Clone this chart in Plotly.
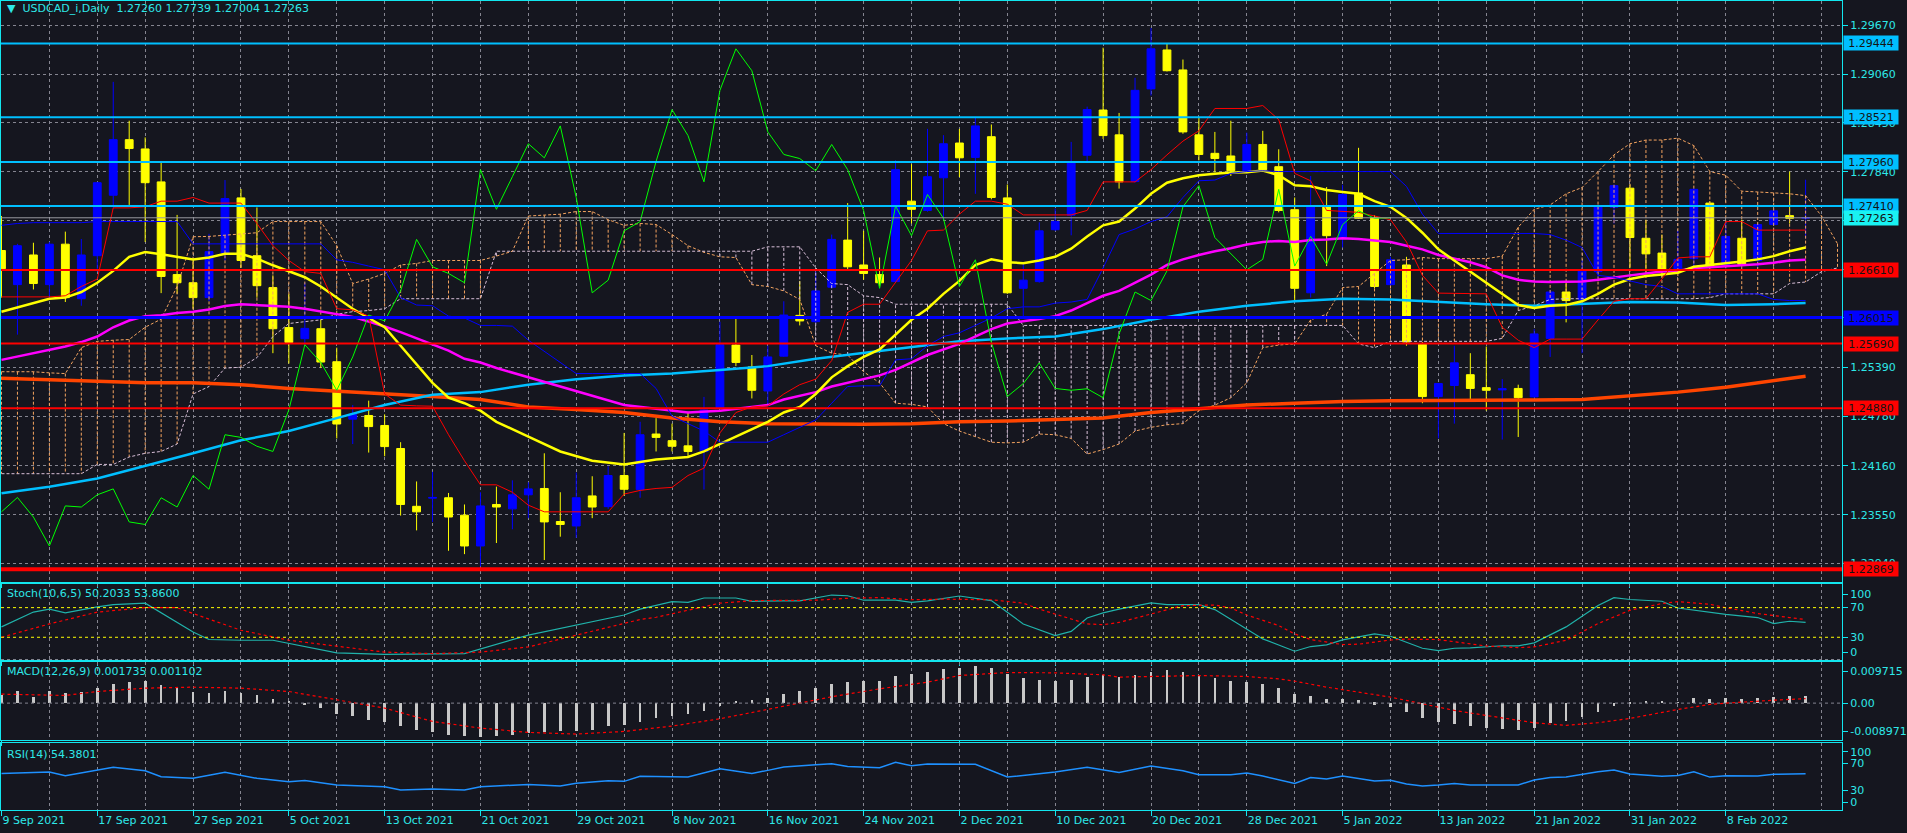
import numpy as np
import pandas as pd
import plotly.graph_objects as go
from plotly.subplots import make_subplots

# ---- daily bars (USDCAD_i, 9 Sep 2021 .. 15 Feb 2022) ----
dates = pd.bdate_range("2021-09-09", periods=114)
date_text = [f"{d.day} {d.strftime('%b %Y')}" for d in dates]
bar_idx = np.arange(len(dates))

opens = [1.26854, 1.26427, 1.26798, 1.26427, 1.26933, 1.26251, 1.26789, 1.27545, 1.28240, 1.28124,
         1.27712, 1.26553, 1.26451, 1.26265, 1.26822, 1.27512, 1.26789, 1.26390, 1.25890, 1.25751,
         1.25876, 1.25463, 1.24745, 1.24791, 1.24666, 1.24378, 1.23655, 1.23757, 1.23762, 1.23544,
         1.23159, 1.23678, 1.23623, 1.23799, 1.23878, 1.23465, 1.23409, 1.23785, 1.23651, 1.24040,
         1.23864, 1.24559, 1.24476, 1.24411, 1.24341, 1.24888, 1.25672, 1.25398, 1.25097, 1.25533,
         1.26043, 1.25964, 1.26395, 1.26984, 1.26673, 1.26553, 1.26465, 1.27471, 1.27355, 1.27763,
         1.28198, 1.28018, 1.28277, 1.27512, 1.26381, 1.26465, 1.27114, 1.27294, 1.28045, 1.28611,
         1.28300, 1.27716, 1.28875, 1.29362, 1.29112, 1.28300, 1.28069, 1.28036, 1.27832, 1.28180,
         1.27902, 1.27364, 1.26325, 1.27410, 1.27021, 1.27573, 1.27262, 1.26427, 1.26673, 1.25681,
         1.25027, 1.25166, 1.25301, 1.25139, 1.25111, 1.25129, 1.25023, 1.25755, 1.26335, 1.26242,
         1.26590, 1.27396, 1.27633, 1.27007, 1.26822, 1.26613, 1.26752, 1.27447, 1.26659, 1.27007,
         1.26729, 1.27178, 1.27290, 1.27260]
highs = [1.27285, 1.26937, 1.26951, 1.26961, 1.27090, 1.26998, 1.27712, 1.28963, 1.28477, 1.28268,
         1.27957, 1.27299, 1.26729, 1.27063, 1.27735, 1.27624, 1.27392, 1.26543, 1.26312, 1.26451,
         1.25987, 1.25639, 1.24921, 1.24976, 1.24805, 1.24457, 1.23966, 1.24086, 1.23822, 1.23678,
         1.23831, 1.23901, 1.23980, 1.23956, 1.24318, 1.23831, 1.24077, 1.24031, 1.24156, 1.24573,
         1.24712, 1.24758, 1.24689, 1.24837, 1.25023, 1.25964, 1.26033, 1.25547, 1.25663, 1.26219,
         1.26474, 1.26590, 1.27053, 1.27447, 1.27100, 1.26766, 1.27981, 1.27934, 1.28375, 1.28296,
         1.28375, 1.28514, 1.28430, 1.27679, 1.26706, 1.27206, 1.27378, 1.28212, 1.28653, 1.29390,
         1.28574, 1.29014, 1.29636, 1.29441, 1.29242, 1.28514, 1.28337, 1.28477, 1.28328, 1.28351,
         1.28120, 1.27517, 1.27786, 1.27647, 1.27675, 1.28138, 1.27294, 1.26775, 1.26775, 1.25709,
         1.25199, 1.25663, 1.25570, 1.25653, 1.25245, 1.25176, 1.25871, 1.26358, 1.26451, 1.26729,
         1.27424, 1.27679, 1.27679, 1.27239, 1.27053, 1.27100, 1.27633, 1.27471, 1.27216, 1.27239,
         1.27192, 1.27378, 1.27841, 1.27739]
lows = [1.26265, 1.25802, 1.26367, 1.26265, 1.26210, 1.26163, 1.26590, 1.27378, 1.27424, 1.26961,
        1.26321, 1.26312, 1.26126, 1.26219, 1.26729, 1.26636, 1.26265, 1.25570, 1.25440, 1.25663,
        1.25384, 1.24504, 1.24434, 1.24327, 1.24281, 1.23539, 1.23354, 1.23460, 1.23099, 1.23057,
        1.22904, 1.23196, 1.23368, 1.23507, 1.22983, 1.23275, 1.23261, 1.23507, 1.23623, 1.23785,
        1.23762, 1.24341, 1.24341, 1.24281, 1.23864, 1.24874, 1.25408, 1.25004, 1.24921, 1.25523,
        1.25917, 1.25941, 1.26381, 1.26599, 1.26488, 1.26404, 1.26455, 1.27192, 1.27340, 1.27239,
        1.27772, 1.27563, 1.27494, 1.26312, 1.26033, 1.26451, 1.27100, 1.27044, 1.27971, 1.28249,
        1.27628, 1.27702, 1.28792, 1.29093, 1.28314, 1.27981, 1.27832, 1.27786, 1.27818, 1.27851,
        1.27331, 1.26219, 1.26265, 1.26659, 1.26891, 1.27248, 1.26381, 1.26404, 1.25663, 1.24944,
        1.24504, 1.24689, 1.24990, 1.24851, 1.24490, 1.24522, 1.25013, 1.25523, 1.25955, 1.25570,
        1.26520, 1.27192, 1.26636, 1.26590, 1.26520, 1.26567, 1.26636, 1.26636, 1.26636, 1.26659,
        1.26636, 1.27169, 1.27192, 1.27004]
closes = [1.26627, 1.26914, 1.26441, 1.26933, 1.26265, 1.26798, 1.27702, 1.28240, 1.28129, 1.27702,
          1.26529, 1.26451, 1.26265, 1.26840, 1.27503, 1.26729, 1.26414, 1.25876, 1.25704, 1.25880,
          1.25459, 1.24684, 1.24805, 1.24652, 1.24402, 1.23678, 1.23586, 1.23766, 1.23521, 1.23159,
          1.23660, 1.23646, 1.23799, 1.23873, 1.23460, 1.23428, 1.23762, 1.23646, 1.24040, 1.23868,
          1.24550, 1.24517, 1.24406, 1.24341, 1.24860, 1.25676, 1.25454, 1.25106, 1.25523, 1.26047,
          1.25973, 1.26349, 1.26993, 1.26650, 1.26567, 1.26451, 1.27865, 1.27369, 1.27777, 1.28189,
          1.28013, 1.28412, 1.27517, 1.26325, 1.26483, 1.27100, 1.27216, 1.27967, 1.28616, 1.28291,
          1.27712, 1.28857, 1.29376, 1.29102, 1.28337, 1.28055, 1.28004, 1.27851, 1.28180, 1.27865,
          1.27355, 1.26381, 1.27410, 1.27039, 1.27554, 1.27257, 1.26404, 1.26738, 1.25709, 1.25027,
          1.25190, 1.25449, 1.25129, 1.25106, 1.25125, 1.25013, 1.25811, 1.26335, 1.26228, 1.26599,
          1.27401, 1.27665, 1.27016, 1.26812, 1.26613, 1.26743, 1.27619, 1.26659, 1.27030, 1.26682,
          1.27178, 1.27350, 1.27257, 1.27263]

# ---- moving averages ----
ma_fast_idx = [0, 3, 4, 5, 6, 7, 8, 9, 10, 11, 12, 13, 14, 15, 16, 17, 18, 19, 20, 21, 22, 23, 24, 25, 26,
               27, 28, 29, 30, 31, 33, 35, 37, 39, 41, 43, 44, 45, 47, 48, 49, 50, 51, 52, 53, 54, 55, 56,
               57, 58, 59, 60, 61, 62, 63, 64, 65, 66, 67, 68, 69, 70, 71, 72, 73, 74, 75, 76, 77, 78, 79,
               80, 81, 82, 83, 84, 85, 86, 87, 88, 89, 90, 91, 92, 93, 94, 95, 96, 97, 98, 99, 100, 101,
               102, 103, 104, 105, 106, 107, 108, 109, 110, 111, 112, 113]
ma_fast = [1.26089, 1.26251, 1.26265, 1.26335, 1.26451, 1.26599, 1.26775, 1.26835, 1.26808, 1.26775,
           1.26743, 1.26766, 1.26812, 1.26812, 1.26752, 1.26669, 1.26590, 1.26520, 1.26404, 1.26265,
           1.26126, 1.26010, 1.25894, 1.25663, 1.25431, 1.25199, 1.25013, 1.24944, 1.24851, 1.24712,
           1.24527, 1.24341, 1.24225, 1.24179, 1.24239, 1.24272, 1.24341, 1.24434, 1.24619, 1.24712,
           1.24828, 1.24898, 1.25060, 1.25268, 1.25408, 1.25523, 1.25616, 1.25802, 1.25987, 1.26126,
           1.26312, 1.26474, 1.26673, 1.26743, 1.26706, 1.26696, 1.26729, 1.26775, 1.26877, 1.27030,
           1.27169, 1.27216, 1.27378, 1.27563, 1.27702, 1.27758, 1.27795, 1.27814, 1.27828, 1.27832,
           1.27855, 1.27795, 1.27670, 1.27656, 1.27610, 1.27586, 1.27563, 1.27471, 1.27401, 1.27262,
           1.27076, 1.26868, 1.26729, 1.26590, 1.26451, 1.26312, 1.26172, 1.26135, 1.26163, 1.26172,
           1.26219, 1.26312, 1.26427, 1.26497, 1.26534, 1.26553, 1.26576, 1.26650, 1.26669, 1.26696,
           1.26715, 1.26743, 1.26784, 1.26845, 1.26891]

ma_mid_idx = [0, 3, 4, 5, 6, 7, 8, 9, 10, 11, 12, 13, 14, 15, 16, 17, 18, 19, 20, 21, 22, 23, 24, 25, 26,
              27, 28, 29, 30, 31, 33, 35, 37, 39, 41, 43, 45, 47, 48, 49, 50, 51, 52, 53, 54, 55, 56, 57,
              58, 60, 61, 62, 63, 64, 65, 66, 67, 68, 69, 70, 71, 72, 73, 74, 75, 76, 77, 78, 79, 80, 81,
              82, 83, 84, 85, 86, 87, 88, 89, 90, 91, 92, 93, 94, 95, 96, 97, 98, 99, 100, 101, 102, 103,
              104, 105, 106, 107, 108, 109, 110, 111, 112, 113]
ma_mid = [1.25486, 1.25616, 1.25653, 1.25709, 1.25778, 1.25894, 1.25978, 1.26033, 1.26043, 1.26071,
          1.26089, 1.26117, 1.26159, 1.26182, 1.26172, 1.26163, 1.26149, 1.26126, 1.26089, 1.26057,
          1.26024, 1.25964, 1.25904, 1.25834, 1.25755, 1.25686, 1.25602, 1.25500, 1.25454, 1.25384,
          1.25268, 1.25153, 1.25037, 1.24921, 1.24874, 1.24828, 1.24851, 1.24898, 1.24921, 1.24990,
          1.25037, 1.25083, 1.25153, 1.25199, 1.25245, 1.25292, 1.25361, 1.25454, 1.25547, 1.25686,
          1.25778, 1.25871, 1.25941, 1.25964, 1.25996, 1.26033, 1.26103, 1.26196, 1.26288, 1.26349,
          1.26451, 1.26553, 1.26673, 1.26743, 1.26798, 1.26845, 1.26882, 1.26928, 1.26961, 1.26974,
          1.26961, 1.26984, 1.26993, 1.27007, 1.26998, 1.26984, 1.26961, 1.26914, 1.26868, 1.26798,
          1.26752, 1.26706, 1.26645, 1.26543, 1.26488, 1.26465, 1.26460, 1.26460, 1.26465, 1.26488,
          1.26520, 1.26543, 1.26567, 1.26590, 1.26599, 1.26636, 1.26645, 1.26655, 1.26664, 1.26682,
          1.26701, 1.26729, 1.26738]

ma_slow_idx = [0, 3, 6, 9, 12, 15, 18, 21, 24, 27, 30, 33, 36, 39, 42, 45, 48, 51, 54, 57, 60, 63, 66,
               69, 72, 75, 78, 81, 84, 87, 90, 93, 96, 99, 102, 105, 108, 111, 113]
ma_slow = [1.23817, 1.23901, 1.24003, 1.24156, 1.24318, 1.24480, 1.24596, 1.24758, 1.24921, 1.25051,
           1.25083, 1.25176, 1.25245, 1.25292, 1.25315, 1.25361, 1.25408, 1.25500, 1.25570, 1.25639,
           1.25718, 1.25755, 1.25778, 1.25871, 1.25987, 1.26089, 1.26163, 1.26219, 1.26251, 1.26242,
           1.26210, 1.26182, 1.26163, 1.26182, 1.26210, 1.26205, 1.26172, 1.26182, 1.26196]
ma_long = [1.25255, 1.25236, 1.25213, 1.25199, 1.25199, 1.25176, 1.25129, 1.25097, 1.25069, 1.25027,
           1.24990, 1.24898, 1.24865, 1.24828, 1.24758, 1.24712, 1.24689, 1.24680, 1.24680, 1.24689,
           1.24712, 1.24721, 1.24735, 1.24758, 1.24828, 1.24874, 1.24921, 1.24944, 1.24967, 1.24976,
           1.24976, 1.24976, 1.24986, 1.24990, 1.25037, 1.25083, 1.25143, 1.25222, 1.25282]

# ---- ichimoku ----
tenkan = [1.26274, 1.26274, 1.26274, 1.26274, 1.26288, 1.26404, 1.26497, 1.27387, 1.27387, 1.27401,
          1.27471, 1.27471, 1.27517, 1.27447, 1.27447, 1.27447, 1.27192, 1.26914, 1.26729, 1.26590,
          1.26567, 1.26126, 1.26112, 1.26033, 1.25060, 1.24921, 1.24911, 1.24907, 1.24550, 1.24225,
          1.23924, 1.23924, 1.23831, 1.23669, 1.23586, 1.23586, 1.23586, 1.23586, 1.23586, 1.23808,
          1.23854, 1.23878, 1.23892, 1.24040, 1.24133, 1.24573, 1.24828, 1.24898, 1.24911, 1.25060,
          1.25176, 1.25245, 1.25477, 1.26080, 1.26182, 1.26182, 1.26451, 1.26729, 1.27100, 1.27109,
          1.27308, 1.27471, 1.27471, 1.27433, 1.27299, 1.27299, 1.27299, 1.27299, 1.27355, 1.27712,
          1.27712, 1.27712, 1.27865, 1.28050, 1.28222, 1.28351, 1.28630, 1.28630, 1.28630, 1.28667,
          1.28490, 1.27818, 1.27726, 1.27355, 1.27341, 1.27331, 1.27285, 1.27239, 1.26961, 1.26543,
          1.26321, 1.26321, 1.26321, 1.26312, 1.25894, 1.25732, 1.25639, 1.25746, 1.25746, 1.25746,
          1.25987, 1.26219, 1.26251, 1.26251, 1.26497, 1.26761, 1.26775, 1.26775, 1.27216, 1.27216,
          1.27109, 1.27109, 1.27109, 1.27109]
kijun = [1.27169, 1.27192, 1.27202, 1.27202, 1.27202, 1.27202, 1.27216, 1.27216, 1.27216, 1.27216,
         1.27216, 1.27216, 1.26937, 1.26937, 1.26937, 1.26937, 1.26937, 1.26937, 1.26937, 1.26937,
         1.26937, 1.26738, 1.26706, 1.26659, 1.26613, 1.26265, 1.26172, 1.26163, 1.26033, 1.26010,
         1.25917, 1.25917, 1.25908, 1.25732, 1.25593, 1.25454, 1.25315, 1.25315, 1.25315, 1.25315,
         1.25315, 1.25129, 1.24782, 1.24689, 1.24596, 1.24457, 1.24457, 1.24457, 1.24457, 1.24550,
         1.24643, 1.24735, 1.24944, 1.25153, 1.25162, 1.25162, 1.25486, 1.25500, 1.25663, 1.25778,
         1.25825, 1.25917, 1.26010, 1.26126, 1.26149, 1.26149, 1.26196, 1.26210, 1.26242, 1.26636,
         1.27053, 1.27123, 1.27216, 1.27276, 1.27517, 1.27726, 1.27735, 1.27818, 1.27841, 1.27851,
         1.27841, 1.27841, 1.27841, 1.27841, 1.27841, 1.27841, 1.27841, 1.27841, 1.27656, 1.27308,
         1.27067, 1.27067, 1.27067, 1.27067, 1.27067, 1.27067, 1.27067, 1.27053, 1.26984, 1.26891,
         1.26543, 1.26520, 1.26474, 1.26427, 1.26404, 1.26312, 1.26312, 1.26312, 1.26312, 1.26312,
         1.26312, 1.26242, 1.26228, 1.26228]
span_a = [1.25338, 1.25338, 1.25338, 1.25324, 1.25315, 1.25639, 1.25718, 1.25732, 1.25741, 1.25894,
          1.25996, 1.26404, 1.27026, 1.27030, 1.27044, 1.27053, 1.27076, 1.27216, 1.27216, 1.27216,
          1.27216, 1.26914, 1.26441, 1.26497, 1.26567, 1.26673, 1.26692, 1.26729, 1.26729, 1.26729,
          1.26729, 1.26784, 1.26845, 1.27285, 1.27294, 1.27308, 1.27341, 1.27341, 1.27239, 1.27169,
          1.27192, 1.27179, 1.27053, 1.26914, 1.26831, 1.26775, 1.26766, 1.26427, 1.26404, 1.26349,
          1.26242, 1.25663, 1.25570, 1.25547, 1.25338, 1.25199, 1.24944, 1.24930, 1.24898, 1.24689,
          1.24596, 1.24527, 1.24457, 1.24448, 1.24457, 1.24559, 1.24550, 1.24504, 1.24309, 1.24364,
          1.24434, 1.24596, 1.24643, 1.24675, 1.24689, 1.24851, 1.24921, 1.25013, 1.25199, 1.25639,
          1.25672, 1.25686, 1.25987, 1.26057, 1.26390, 1.26404, 1.26567, 1.26729, 1.26738, 1.26766,
          1.26752, 1.26752, 1.26752, 1.26752, 1.26784, 1.27146, 1.27369, 1.27424, 1.27563, 1.27642,
          1.27841, 1.28050, 1.28189, 1.28235, 1.28235, 1.28259, 1.28166, 1.27841, 1.27795, 1.27596,
          1.27586, 1.27577, 1.27563, 1.27540, 1.27285, 1.26937]
span_b = [1.24063, 1.24063, 1.24063, 1.24063, 1.24063, 1.24063, 1.24179, 1.24179, 1.24272, 1.24318,
          1.24341, 1.24434, 1.25060, 1.25153, 1.25384, 1.25394, 1.25514, 1.25778, 1.25941, 1.25964,
          1.25987, 1.26057, 1.26089, 1.26103, 1.26126, 1.26251, 1.26251, 1.26251, 1.26251, 1.26251,
          1.26251, 1.26845, 1.26845, 1.26845, 1.26845, 1.26845, 1.26845, 1.26845, 1.26845, 1.26845,
          1.26845, 1.26845, 1.26845, 1.26845, 1.26845, 1.26845, 1.26845, 1.26845, 1.26900, 1.26900,
          1.26900, 1.26636, 1.26441, 1.26427, 1.26288, 1.26265, 1.26182, 1.26182, 1.26182, 1.26182,
          1.26182, 1.26182, 1.26182, 1.26182, 1.25917, 1.25917, 1.25917, 1.25917, 1.25917, 1.25917,
          1.25917, 1.25917, 1.25917, 1.25917, 1.25917, 1.25917, 1.25917, 1.25917, 1.25917, 1.25917,
          1.25917, 1.25917, 1.25917, 1.25917, 1.25917, 1.25686, 1.25639, 1.25718, 1.25718, 1.25718,
          1.25718, 1.25718, 1.25718, 1.25718, 1.25755, 1.26103, 1.26163, 1.26242, 1.26251, 1.26251,
          1.26251, 1.26251, 1.26251, 1.26251, 1.26251, 1.26251, 1.26251, 1.26265, 1.26312, 1.26312,
          1.26312, 1.26312, 1.26441, 1.26460, 1.26590, 1.26636]
chikou_shift = 26

# ---- horizontal lines on the chart ----
level_prices = [1.29444, 1.28521, 1.27960, 1.27410, 1.26610, 1.26015, 1.25690, 1.24880, 1.22869]
bid_price = 1.27263
price_ticks = [1.29670, 1.29060, 1.28450, 1.27840, 1.27230, 1.26620, 1.26010,
               1.25390, 1.24780, 1.24160, 1.23550, 1.22940]

# ---- Stochastic (10,6,5) ----
stoch_idx = [0, 2, 3, 4, 6, 7, 9, 12, 13, 15, 17, 18, 21, 24, 27, 29, 33, 36, 39, 40, 42, 43, 44, 46,
             47, 49, 50, 52, 53, 54, 56, 57, 58, 60, 61, 62, 63, 64, 66, 67, 68, 69, 70, 72, 73, 75,
             76, 78, 79, 81, 82, 83, 84, 86, 87, 89, 90, 91, 92, 94, 95, 96, 98, 100, 101, 102, 104,
             105, 107, 108, 110, 111, 112, 113]
stoch_main = [44, 64, 68, 63, 71, 74, 76, 37, 27, 26, 26, 22, 9, 7, 7.5, 8, 33, 47, 60, 68, 78, 77, 83,
              83, 78.5, 79, 79, 87, 86, 80, 80, 77, 79, 85.7, 82.6, 79.5, 63.7, 48, 32.3, 38, 56, 63,
              68, 76.3, 74, 74, 67.4, 41.2, 27.8, 11.2, 17.5, 19.7, 26.4, 34.5, 31.4, 15.2, 12.1, 15.2,
              15.6, 18.6, 18.3, 22.4, 44, 73, 83.5, 81, 78.6, 69.5, 64, 61, 56.6, 48.5, 51.6, 50.2]
stoch_sig_idx = [0, 3, 6, 9, 11, 12, 15, 18, 21, 24, 27, 30, 33, 36, 39, 40, 41, 43, 45, 47, 51, 53, 55,
                 57, 59, 62, 64, 65, 67, 68, 69, 70, 72, 74, 76, 77, 78, 80, 81, 82, 84, 85, 87, 88, 90,
                 92, 93, 95, 96, 98, 100, 102, 104, 105, 107, 108, 110, 112, 113]
stoch_signal = [30, 48, 64, 70, 70, 62, 39.5, 26, 18, 10, 8, 10, 17, 33, 48, 54, 57, 67, 76, 79.5, 80,
                82.6, 83.5, 80.6, 81.5, 80.6, 76, 68, 54, 48, 47, 50, 61.4, 72.7, 73.5, 69.5, 60, 45.8,
                34.5, 26.9, 20.2, 20.7, 26.3, 27.6, 26.9, 21.3, 18.2, 16, 17, 26, 48.5, 66.4, 75.5, 78,
                74.5, 70, 62, 56.6, 53.9]

# ---- MACD (12,26,9) ----
macd_main = [0.00202, 0.00283, 0.00146, 0.00299, 0.00243, 0.00275, 0.00356, 0.00469, 0.00518, 0.00542,
             0.00445, 0.00380, 0.00275, 0.00251, 0.00299, 0.00251, 0.00202, 0.00105, 0.00040, -0.00057,
             -0.00129, -0.00259, -0.00324, -0.00405, -0.00469, -0.00566, -0.00663, -0.00712, -0.00769,
             -0.00809, -0.00825, -0.00793, -0.00769, -0.00728, -0.00712, -0.00688, -0.00672, -0.00647,
             -0.00566, -0.00526, -0.00461, -0.00364, -0.00316, -0.00267, -0.00186, -0.00073, 0.00024,
             0.00073, 0.00121, 0.00218, 0.00291, 0.00364, 0.00461, 0.00510, 0.00534, 0.00534, 0.00655,
             0.00704, 0.00752, 0.00825, 0.00849, 0.00898, 0.00849, 0.00704, 0.00607, 0.00558, 0.00534,
             0.00558, 0.00631, 0.00671, 0.00631, 0.00680, 0.00752, 0.00801, 0.00752, 0.00680, 0.00607,
             0.00534, 0.00510, 0.00461, 0.00364, 0.00218, 0.00170, 0.00097, 0.00097, 0.00073, -0.00040,
             -0.00097, -0.00218, -0.00364, -0.00461, -0.00510, -0.00558, -0.00607, -0.00631, -0.00655,
             -0.00607, -0.00493, -0.00429, -0.00332, -0.00210, -0.00065, -0.00010, 0.00030, 0.00030,
             0.00020, 0.00130, 0.00100, 0.00120, 0.00100, 0.00120, 0.00146, 0.00170, 0.00174]
macd_sig_idx = [0, 4, 6, 9, 12, 15, 18, 21, 24, 27, 30, 33, 36, 39, 42, 45, 48, 50, 52, 55, 58, 60, 63,
                66, 69, 70, 73, 75, 78, 80, 81, 83, 85, 87, 89, 91, 93, 95, 96, 98, 100, 102, 105, 107,
                108, 111, 113]
macd_signal = [0.00218, 0.00186, 0.00283, 0.00364, 0.00388, 0.00364, 0.00283, 0.00081, -0.00121,
               -0.00445, -0.00607, -0.00712, -0.00752, -0.00688, -0.00558, -0.00380, -0.00154, 0.0,
               0.00154, 0.00348, 0.00510, 0.00671, 0.00744, 0.00736, 0.00688, 0.00631, 0.00655, 0.00671,
               0.00647, 0.00590, 0.00534, 0.00388, 0.00267, 0.00146, -0.00016, -0.00178, -0.00300,
               -0.00430, -0.00477, -0.00542, -0.00477, -0.00372, -0.00154, -0.00032, 0.0, 0.00070,
               0.00110]

# ---- RSI (14) ----
rsi_idx = [0, 3, 4, 7, 9, 10, 12, 14, 16, 18, 19, 21, 24, 25, 27, 29, 30, 33, 35, 36, 38, 39, 40, 42,
           43, 45, 47, 48, 49, 51, 52, 53, 55, 56, 57, 58, 60, 61, 63, 65, 66, 68, 70, 72, 74, 75, 77,
           78, 79, 81, 82, 83, 84, 86, 87, 88, 89, 90, 91, 92, 95, 96, 97, 98, 100, 101, 102, 104, 105,
           106, 107, 108, 110, 111, 113]
rsi = [55, 57, 51.6, 64, 59, 50, 47.7, 56.6, 47.7, 42.7, 44.6, 37.8, 35.3, 30.4, 32, 30.4, 35.3, 38.6,
       36.3, 40.3, 44, 43.2, 50.6, 49.6, 49.6, 62, 55, 59.5, 64.4, 67.9, 69.4, 65.4, 63.5, 71.4, 66.4,
       68.9, 68.4, 68.4, 49.6, 54.6, 57, 64, 56.5, 65.9, 59, 53, 53, 55.6, 51.1, 40.2, 49, 46.7, 51.1,
       43.7, 44.7, 39.3, 36.3, 37.8, 40.2, 37.8, 37.8, 45.2, 49, 49.5, 57.5, 60, 54, 50.6, 52, 57.5,
       49.5, 51.7, 51, 53.7, 54.4]

# ---- styling ----
BG = "#15161f"
GRID = "#858590"
FG = "#2ee8e8"
BORDER = "#12e6ee"
BULL = "#0000ff"
BEAR = "#ffff00"
FONT = "DejaVu Sans"

fig = make_subplots(rows=4, cols=1, shared_xaxes=True)

# kumo hatch: one vertical dotted stroke per bar between the two spans
up_x, up_y, dn_x, dn_y = [], [], [], []
for k, (a, b) in enumerate(zip(span_a, span_b)):
    if a >= b:
        up_x += [k, k, None]
        up_y += [a, b, None]
    else:
        dn_x += [k, k, None]
        dn_y += [a, b, None]
span_idx = np.arange(len(span_a))

fig.add_trace(go.Scatter(x=up_x, y=up_y, mode="lines", line=dict(color="#f4a460", width=1, dash="3px,2px"),
                         hoverinfo="skip", showlegend=False), row=1, col=1)
fig.add_trace(go.Scatter(x=dn_x, y=dn_y, mode="lines", line=dict(color="#d8bfd8", width=1, dash="3px,2px"),
                         hoverinfo="skip", showlegend=False), row=1, col=1)
fig.add_trace(go.Scatter(x=span_idx, y=span_a, mode="lines", line=dict(color="#f4a460", width=1, dash="3px,2px"),
                         hoverinfo="skip", showlegend=False), row=1, col=1)
fig.add_trace(go.Scatter(x=span_idx, y=span_b, mode="lines", line=dict(color="#d8bfd8", width=1, dash="3px,2px"),
                         hoverinfo="skip", showlegend=False), row=1, col=1)

fig.add_trace(go.Candlestick(
    x=bar_idx, open=opens, high=highs, low=lows, close=closes,
    increasing=dict(line=dict(color=BULL, width=1), fillcolor=BULL),
    decreasing=dict(line=dict(color=BEAR, width=1), fillcolor=BEAR),
    whiskerwidth=0, showlegend=False, hoverinfo="skip"), row=1, col=1)

def line(x, y, color, width, row=1, dash=None):
    fig.add_trace(go.Scatter(x=x, y=y, mode="lines", line=dict(color=color, width=width, dash=dash),
                             hoverinfo="skip", showlegend=False), row=row, col=1)

line(ma_slow_idx, ma_long, "#ff4500", 3.5)
line(ma_slow_idx, ma_slow, "#00bfff", 2.5)
line(ma_mid_idx, ma_mid, "#ff00ff", 2.5)
line(ma_fast_idx, ma_fast, "#ffff00", 2.5)
line(bar_idx, kijun, "#0000ff", 1)
line(bar_idx, tenkan, "#ff0000", 1)
line(bar_idx[chikou_shift:] - chikou_shift, closes[chikou_shift:], "#00ff00", 1)

# horizontal lines + price boxes on the right
level_styles = [("#00bfff", 2)] * 4 + [("#ff0000", 2), ("#0000ff", 3), ("#ff0000", 2), ("#ff0000", 2), ("#ff0000", 4)]
fig.add_hline(y=bid_price, line=dict(color="#9a9aa0", width=1), row=1, col=1)
for p, (c, w) in zip(level_prices, level_styles):
    fig.add_hline(y=p, line=dict(color=c, width=w), row=1, col=1)

box_list = list(zip(level_prices, [s[0] for s in level_styles])) + [(bid_price, "#19f2f2")]
for p, c in box_list:
    fig.add_annotation(x=1, xref="paper", y=p, yref="y", xanchor="left", yanchor="middle", xshift=1,
                       text=f"{p:.5f}", showarrow=False, bgcolor=c, borderpad=1, width=52, height=12,
                       font=dict(family=FONT, size=11, color="#141414"))

# stochastic
line(stoch_idx, stoch_main, "#20b2aa", 1.2, row=2)
line(stoch_sig_idx, stoch_signal, "#ff0000", 1.2, row=2, dash="3px,3px")
for lv in (70, 30):
    fig.add_hline(y=lv, line=dict(color="#ffff00", width=1, dash="3px,3px"), row=2, col=1)
fig.add_hline(y=0, line=dict(color=GRID, width=1, dash="3px,3px"), row=2, col=1)

# macd
fig.add_trace(go.Bar(x=bar_idx, y=macd_main, width=0.17, marker=dict(color="#c8c8c8", line=dict(width=0)),
                     hoverinfo="skip", showlegend=False), row=3, col=1)
fig.add_hline(y=0, line=dict(color=GRID, width=1, dash="3px,3px"), row=3, col=1)
line(macd_sig_idx, macd_signal, "#ff0000", 1.2, row=3, dash="3px,3px")

# rsi
for lv in (70, 30):
    fig.add_hline(y=lv, line=dict(color="#ffd700", width=1.5, dash="8px,6px"), row=4, col=1)
fig.add_hline(y=0, line=dict(color=GRID, width=1, dash="3px,3px"), row=4, col=1)
line(rsi_idx, rsi, "#1e90ff", 1.5, row=4)

# axes
tick_k = list(range(0, len(dates), 6))
tick_txt = [date_text[k] for k in tick_k]
axfont = dict(family=FONT, size=11, color=FG)
fig.update_xaxes(range=[-0.03, 115.28], showline=True, linecolor=BORDER, linewidth=1, mirror=True,
                 zeroline=False, showgrid=True, gridcolor=GRID, griddash="3px,3px", gridwidth=1,
                 tickmode="array", tickvals=tick_k, ticktext=tick_txt, tickfont=axfont,
                 ticks="outside", ticklen=5, tickcolor=BORDER, ticklabelposition="outside right",
                 minor=dict(tickmode="linear", tick0=0, dtick=3, showgrid=True, gridcolor=GRID,
                            griddash="3px,3px", gridwidth=1, ticks=""),
                 rangeslider=dict(visible=False))

yax_common = dict(side="right", showline=True, linecolor=BORDER, linewidth=1, mirror=True, zeroline=False,
                  tickfont=axfont, ticks="outside", ticklen=5, tickcolor=BORDER, fixedrange=True)
H = 810.0
fig.update_layout(
    yaxis=dict(domain=[1 - 582 / H, 1], range=[1.22705, 1.29974], tickmode="array", tickvals=price_ticks,
               ticktext=[f"{v:.5f}" for v in price_ticks], showgrid=True, gridcolor=GRID,
               griddash="3px,3px", **yax_common),
    yaxis2=dict(domain=[1 - 660 / H, 1 - 584 / H], range=[-0.9, 101.5], tickmode="array",
                tickvals=[88, 70, 30, 10], ticktext=["100", "70", "30", "0"], showgrid=False, **yax_common),
    yaxis3=dict(domain=[1 - 739.5 / H, 1 - 662 / H], range=[-0.00886, 0.00995], tickmode="array",
                tickvals=[0.0077, 0, -0.0069], ticktext=["0.009715", "0.00", "-0.008971"], showgrid=False,
                **yax_common),
    yaxis4=dict(domain=[0, 1 - 743 / H], range=[0.7, 100], tickmode="array", tickvals=[87, 70, 30, 12],
                ticktext=["100", "70", "30", "0"], showgrid=False, **yax_common),
)

# labels
labels = [("\u25bc  USDCAD_i,Daily  1.27260 1.27739 1.27004 1.27263", 8),
          ("Stoch(10,6,5) 50.2033 53.8600", 593),
          ("MACD(12,26,9) 0.001735 0.001102", 671),
          ("RSI(14) 54.3801", 754)]
for txt, ypx in labels:
    fig.add_annotation(x=0.002, xref="paper", y=1 - ypx / H, yref="paper", xanchor="left", yanchor="middle",
                       text=txt, showarrow=False, font=dict(family=FONT, size=11, color=FG))

fig.update_layout(
    width=1907, height=833, margin=dict(l=1, r=61, t=0, b=23),
    paper_bgcolor=BG, plot_bgcolor=BG, showlegend=False, bargap=0, boxgap=0.3,
    font=dict(family=FONT, size=11, color=FG),
)

fig.write_html("out.html", config={"displayModeBar": False},
               post_script="document.body.style.margin='0';document.body.style.overflow='hidden';")
